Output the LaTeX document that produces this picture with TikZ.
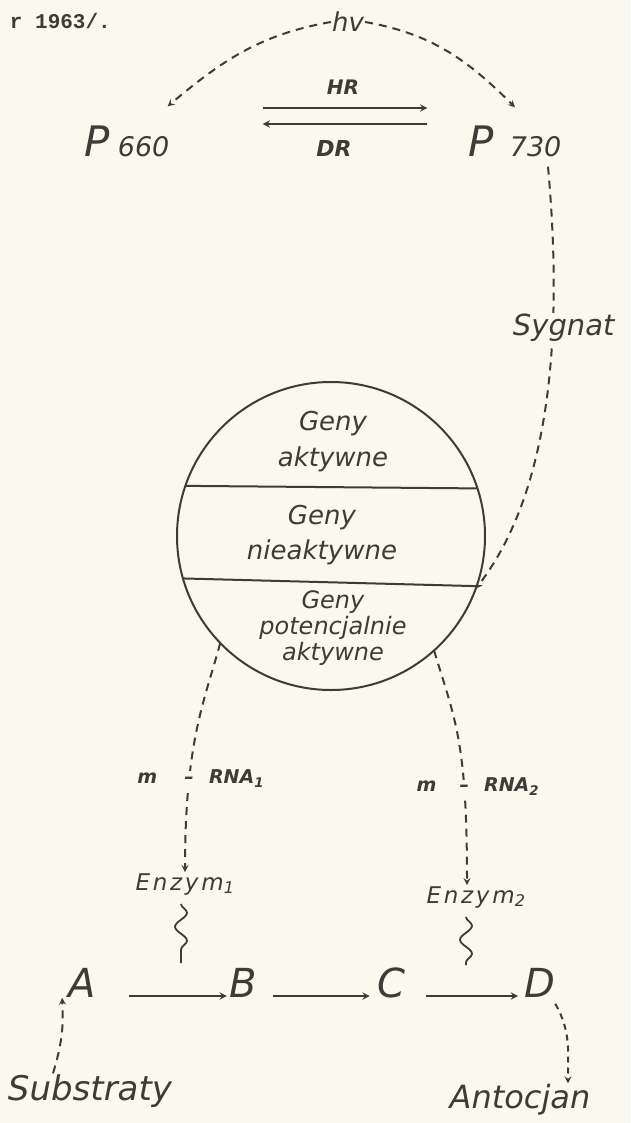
\documentclass[tikz,border=0pt]{standalone}
\usepackage{fontspec}
\setmainfont{DejaVu Sans}
\newfontfamily\stampfont{Liberation Mono}
\usepackage{xcolor}
\usepackage{tikz}
\usetikzlibrary{arrows, positioning, calc, decorations.pathmorphing}

\definecolor{paper}{RGB}{251,249,238}
\definecolor{ink}{RGB}{62,60,55}

\begin{document}
\begin{tikzpicture}[
    x=1pt, y=1pt,
    hand/.style={text=ink, inner sep=1pt, font=\itshape\fontsize{#1}{#1}\selectfont},
    handbold/.style={text=ink, inner sep=1pt, font=\bfseries\itshape\fontsize{#1}{#1}\selectfont},
    spaced/.style={text=ink, inner sep=1pt, font=\itshape\fontsize{#1}{#1}\selectfont\addfontfeatures{LetterSpace=12}},
    letter/.style={text=ink, inner sep=0pt, font=\itshape\fontsize{40}{40}\selectfont},
    geny/.style={text=ink, align=center, inner sep=0pt, font=\itshape\fontsize{26}{#1}\selectfont},
    dsh/.style={draw=ink, line width=2pt, dash pattern=on 8pt off 6pt, ->, >=stealth},
    rx/.style={draw=ink, line width=2.2pt, ->, >=stealth},
    wavy/.style={draw=ink, line width=1.8pt, decorate, decoration={snake, amplitude=6pt, segment length=28pt}}
]
% paper
\fill[paper] (0,0) rectangle (630,-1123);
\useasboundingbox (0,0) rectangle (630,-1123);

% caption remnant
\node[anchor=east, text=ink, inner sep=0pt, font=\stampfont\bfseries\fontsize{21}{21}\selectfont] (year) at (111,-21) {r 1963/.};

% phytochrome forms
\node[text=ink, inner sep=0pt] (p660) at (127,-141) {\itshape\fontsize{42}{42}\selectfont P\hspace{8pt}\fontsize{27}{27}\selectfont 660};
\node[text=ink, inner sep=0pt] (p730) at (515,-141) {\itshape\fontsize{42}{42}\selectfont P\hspace{16pt}\fontsize{27}{27}\selectfont 730};
\node[hand=26] (hv) at (348,-22) {hv};

% genes
\node[circle, draw=ink, line width=2pt, minimum size=308pt, inner sep=0pt, outer sep=0pt] (genes) at (331,-536) {};
\draw[ink, line width=2pt] (genes.161.45) -- (genes.18.55);
\draw[ink, line width=2pt] (genes.196) -- (genes.341);
\node[geny=36] (active) at (333,-442) {Geny\\aktywne};
\node[geny=35] (inactive) at (322,-535) {Geny\\nieaktywne};
\node[geny=26, font=\itshape\fontsize{24}{26}\selectfont] (potential) at (333,-628) {Geny\\potencjalnie\\aktywne};

% enzymes
\node[spaced=23] (enz1) at (185,-884) {Enzym\textsubscript{1}};
\node[spaced=23] (enz2) at (476,-897) {Enzym\textsubscript{2}};

% reaction chain
\node[letter] (A) at (82,-983) {A};
\node[letter, right=133pt of A] (B) {B};
\node[letter, right=121pt of B] (C) {C};
\node[letter, right=118pt of C] (D) {D};
\node[hand=34] (subs) at (90,-1091) {Substraty};
\node[hand=32] (anto) at (520,-1100) {Antocjan};

% light
\draw[dsh] (hv.west) to[out=190, in=40] ([xshift=-2pt,yshift=19pt]p660.north east);
\draw[dsh] (hv.east) to[out=-10, in=135] ([yshift=18pt]p730.north);

% HR / DR
\draw[rx, shorten <=93pt, shorten >=41pt] ([yshift=33pt]p660.east) -- node[handbold=20, pos=0.58, above=11pt] (hr) {HR} ([yshift=33pt]p730.west);
\draw[rx, shorten <=41pt, shorten >=93pt] ([yshift=17pt]p730.west) -- node[handbold=22, pos=0.45, below=14pt] (dr) {DR} ([yshift=17pt]p660.east);

% signal
\draw[dsh] ([xshift=33pt,yshift=-10pt]p730.south) .. controls (560,-300) and (560,-480) .. (genes.-20) node[hand=29, pos=0.37, fill=paper, xshift=11pt] (sig) {Sygnat};

% messenger RNA
\draw[dsh] (genes.224) .. controls (205,-700) and (185,-740) .. (enz1.north) node[handbold=19, pos=0.72, fill=paper, minimum height=18pt] (dash1) {--};
\node[handbold=19, base left=24pt of dash1] (m1) {m};
\node[handbold=19, base right=12pt of dash1] (rna1) {RNA\textsubscript{1}};
\draw[dsh] (genes.-48) .. controls (455,-720) and (467,-740) .. ([xshift=-9pt]enz2.north) node[handbold=19, pos=0.72, fill=paper, minimum height=18pt] (dash2) {--};
\node[handbold=19, base left=20pt of dash2] (m2) {m};
\node[handbold=19, base right=12pt of dash2] (rna2) {RNA\textsubscript{2}};

% enzyme action
\draw[rx, shorten <=33pt, shorten >=2pt] ([yshift=-13pt]A.east) -- coordinate[pos=0.6] (ab) ([yshift=-13pt]B.west);
\draw[rx, shorten <=16pt, shorten >=8pt] ([yshift=-13pt]B.east) -- ([yshift=-13pt]C.west);
\draw[rx, shorten <=20pt, shorten >=6pt] ([yshift=-13pt]C.east) -- coordinate[pos=0.55] (cd) ([yshift=-13pt]D.west);
\draw[wavy] ($(enz1.south)+(-4,-8)$) -- ($(enz1.south |- ab)+(-4,33)$);
\draw[wavy] ($(enz2.south)+(-10,-8)$) -- ($(enz2.south |- cd)+(-10,31)$);

% substrates / product
\draw[dsh] ([xshift=-37pt]subs.north) to[bend right=10] ([xshift=-6pt]A.south west);
\draw[dsh, dash pattern=on 6pt off 5pt] ([yshift=-6pt]D.south east) to[out=-60, in=90] ([xshift=48pt]anto.north);

\end{tikzpicture}
\end{document}
